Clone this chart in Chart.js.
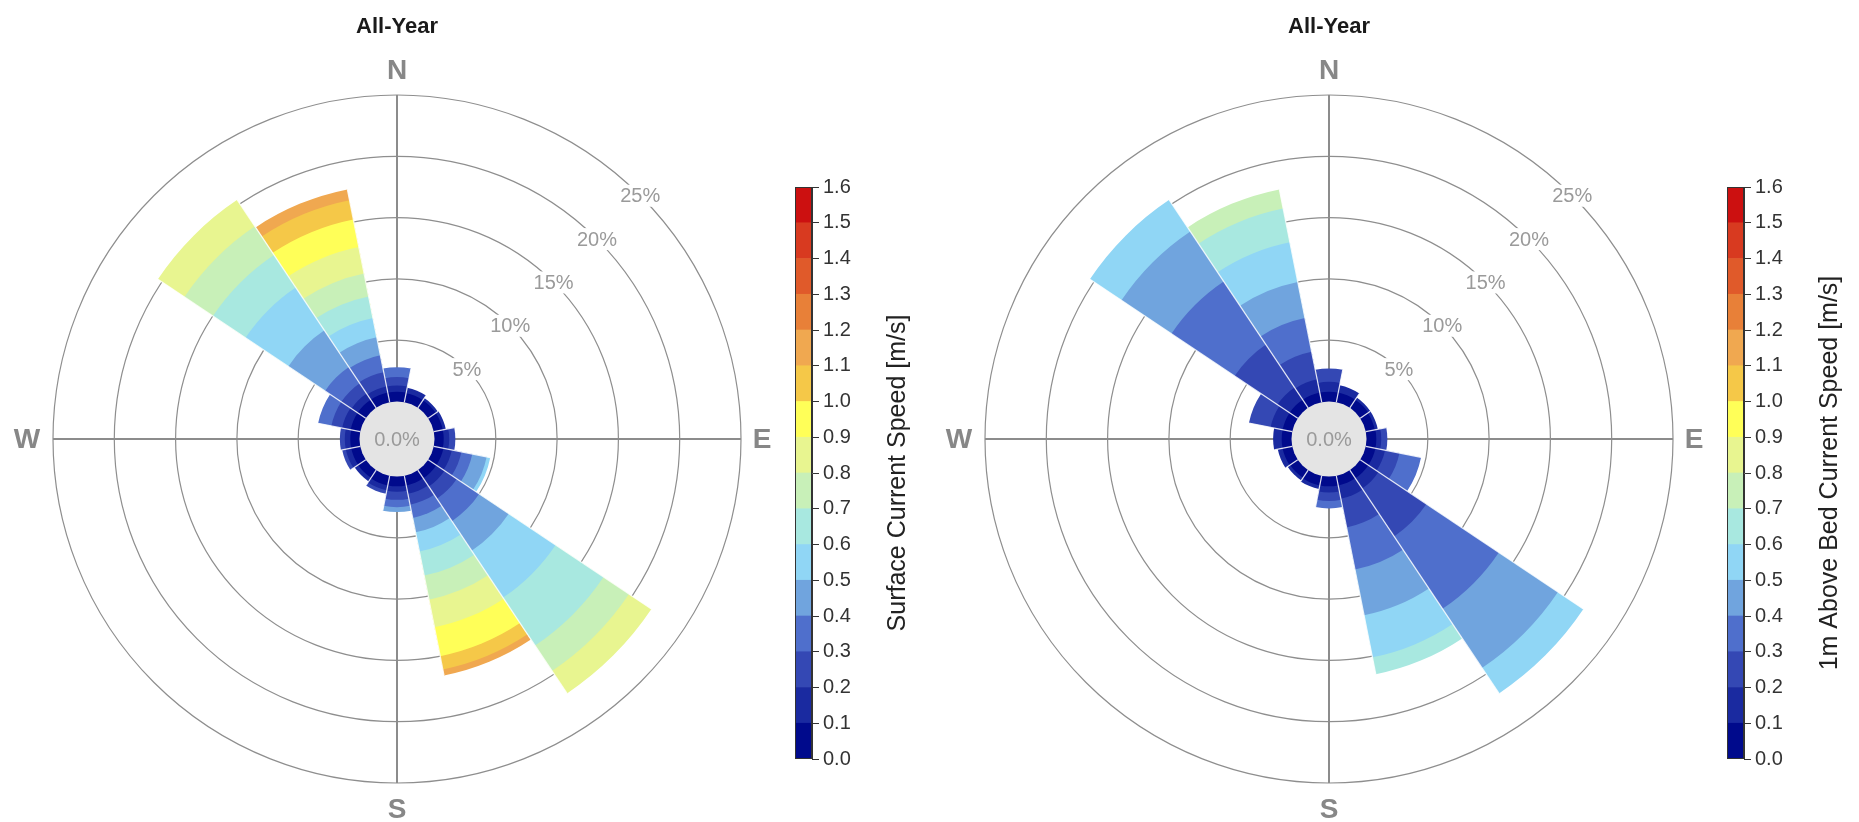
<!DOCTYPE html>
<html>
<head>
<meta charset="utf-8">
<title>All-Year current roses</title>
<script src="https://cdn.jsdelivr.net/npm/chart.js@4.4.1/dist/chart.umd.min.js"></script>
<style>
  html, body { margin: 0; padding: 0; background: #fff; overflow: hidden; }
  body { width: 1859px; height: 822px; position: relative; }
  canvas { position: absolute; }
  #roseSurface { left: 0; top: 0; }
  #barSurface { left: 760px; top: 150px; }
  #roseBed { left: 932px; top: 0; }
  #barBed { left: 1692px; top: 150px; }
</style>
</head>
<body>
<canvas id="roseSurface" width="794" height="822"></canvas>
<canvas id="barSurface" width="200" height="650"></canvas>
<canvas id="roseBed" width="794" height="822"></canvas>
<canvas id="barBed" width="200" height="650"></canvas>
<script>
const FONT = '"Liberation Sans", Arial, sans-serif';
Chart.defaults.font.family = FONT;

// 16 sectors, clockwise from north
const directions = ['N', 'NNE', 'NE', 'ENE', 'E', 'ESE', 'SE', 'SSE', 'S', 'SSW', 'SW', 'WSW', 'W', 'WNW', 'NW', 'NNW'];
const compassLabels = ['N', 'E', 'S', 'W'];
const ringTicks = [0, 5, 10, 15, 20, 25];
const calmLabel = '0.0%';

// speed bins (m/s) and their colours
const speedEdges = [0.0, 0.1, 0.2, 0.3, 0.4, 0.5, 0.6, 0.7, 0.8, 0.9, 1.0, 1.1, 1.2, 1.3, 1.4, 1.5, 1.6];
const binColors = ['#000a8c', '#1a2aa0', '#3448b4', '#4f6fcc', '#70a4de', '#90d6f5', '#a8e8e0', '#c8f0b8',
                   '#e8f590', '#ffff58', '#f5c848', '#f0a850', '#e88038', '#e05a2a', '#d83a20', '#cc1010'];

// surface current: % of time in each speed bin, per direction
const surfN   = [0.8, 0.5, 0.7, 0.8];
const surfNNE = [0.75, 0.45];
const surfNE  = [0.75, 0.2];
const surfENE = [0.75, 0.25];
const surfE   = [0.75, 0.45, 0.5];
const surfESE = [0.8, 0.7, 0.8, 0.9, 1.2, 0.3];
const surfSE  = [0.8, 0.8, 1.2, 2.2, 2.9, 4.6, 4.7, 2.5, 2.2];
const surfSSE = [0.8, 0.7, 0.9, 1.1, 1.2, 1.6, 2.0, 2.0, 2.3, 2.4, 1.1, 0.5];
const surfS   = [0.8, 0.45, 0.65, 0.6, 0.4];
const surfSSW = [0.8, 0.4, 0.3];
const surfSW  = [0.75, 0.35];
const surfWSW = [0.75, 0.45, 0.3];
const surfW   = [0.75, 0.45, 0.4];
const surfWNW = [0.8, 0.7, 0.9, 1.1];
const surfNW  = [0.8, 0.6, 1.0, 1.6, 3.6, 4.2, 3.2, 2.8, 2.6];
const surfNNW = [0.8, 0.5, 1.2, 1.4, 1.5, 1.6, 1.8, 1.9, 2.2, 2.3, 1.6, 0.9];

// 1m above bed
const bedN   = [0.8, 0.8, 1.1];
const bedNNE = [0.8, 0.6];
const bedNE  = [0.8, 0.2];
const bedENE = [0.75, 0.25];
const bedE   = [0.8, 0.4, 0.5];
const bedESE = [0.8, 0.8, 1.2, 1.8];
const bedSE  = [0.8, 1.0, 4.7, 7.1, 5.8, 2.5];
const bedSSE = [0.8, 1.1, 2.4, 3.5, 3.8, 3.5, 1.4];
const bedS   = [0.8, 0.5, 0.7, 0.6];
const bedSSW = [0.8, 0.3];
const bedSW  = [0.75, 0.25];
const bedWSW = [0.8, 0.4];
const bedW   = [0.8, 0.7];
const bedWNW = [0.8, 1.0, 1.8];
const bedNW  = [0.8, 1.2, 4.2, 6.2, 4.9, 3.1];
const bedNNW = [0.8, 1.1, 2.3, 2.8, 3.0, 3.3, 2.8, 1.6];

const surfaceRows = [surfN, surfNNE, surfNE, surfENE, surfE, surfESE, surfSE, surfSSE,
                     surfS, surfSSW, surfSW, surfWSW, surfW, surfWNW, surfNW, surfNNW];
const bedRows = [bedN, bedNNE, bedNE, bedENE, bedE, bedESE, bedSE, bedSSE,
                 bedS, bedSSW, bedSW, bedWSW, bedW, bedWNW, bedNW, bedNNW];

const colorTicks = speedEdges;

// one polar dataset per speed bin, holding the running total;
// lower bins come first so they are painted on top
function stackedDatasets(rows) {
  const nBins = Math.max(...rows.map(r => r.length));
  const sets = [];
  for (let k = 0; k < nBins; k++) {
    sets.push({
      label: speedEdges[k].toFixed(1) + '-' + speedEdges[k + 1].toFixed(1),
      data: rows.map(r => r.length > k ? r.slice(0, k + 1).reduce((a, b) => a + b, 0) : null),
      backgroundColor: binColors[k],
      borderWidth: 0
    });
  }
  return sets;
}

const roseDecor = {
  id: 'roseDecor',
  beforeDatasetsDraw(chart) {
    const ctx = chart.ctx;
    const s = chart.scales.r;
    const R = s.drawingArea, cx = s.xCenter, cy = s.yCenter;
    ctx.save();
    ctx.strokeStyle = '#8c8c8c';
    ctx.lineWidth = 2;
    ctx.beginPath();
    ctx.moveTo(cx, cy - R); ctx.lineTo(cx, cy + R);
    ctx.moveTo(cx - R, cy); ctx.lineTo(cx + R, cy);
    ctx.stroke();
    ctx.restore();
  },
  afterDatasetsDraw(chart) {
    const ctx = chart.ctx;
    const s = chart.scales.r;
    const R = s.drawingArea, cx = s.xCenter, cy = s.yCenter;
    const n = chart.data.labels.length;
    const totals = chart.data.labels.map((_, i) =>
      Math.max(...chart.data.datasets.map(ds => ds.data[i] ?? 0)));
    const r0 = s.getDistanceFromCenterForValue(0);

    ctx.save();
    // thin light gaps between sectors
    ctx.strokeStyle = 'rgba(255,255,255,0.85)';
    ctx.lineWidth = 1.2;
    for (let i = 0; i < n; i++) {
      const a = s.getIndexAngle(i) - Math.PI / 2;
      const len = s.getDistanceFromCenterForValue(Math.max(totals[i], totals[(i + n - 1) % n]));
      ctx.beginPath();
      ctx.moveTo(cx + r0 * Math.cos(a), cy + r0 * Math.sin(a));
      ctx.lineTo(cx + len * Math.cos(a), cy + len * Math.sin(a));
      ctx.stroke();
    }

    // calm circle
    ctx.fillStyle = '#e4e4e4';
    ctx.beginPath();
    ctx.arc(cx, cy, r0, 0, Math.PI * 2);
    ctx.fill();
    ctx.textAlign = 'center';
    ctx.textBaseline = 'middle';
    ctx.font = '20px ' + FONT;
    ctx.fillStyle = '#9a9a9a';
    ctx.fillText(calmLabel, cx, cy + 1);

    // ring labels along the NE diagonal
    ringTicks.forEach(v => {
      if (v === 0) return;
      const d = s.getDistanceFromCenterForValue(v);
      const x = cx + d * Math.SQRT1_2, y = cy - d * Math.SQRT1_2;
      const text = v + '%';
      const w = ctx.measureText(text).width;
      ctx.fillStyle = '#ffffff';
      ctx.fillRect(x - w / 2 - 2, y - 11, w + 4, 22);
      ctx.fillStyle = '#9a9a9a';
      ctx.fillText(text, x, y + 1);
    });

    // compass letters
    ctx.font = 'bold 28px ' + FONT;
    ctx.fillStyle = '#878787';
    const gap = [25, 21, 26, 26];
    compassLabels.forEach((t, i) => {
      const a = i * Math.PI / 2;
      const d = R + gap[i];
      ctx.fillText(t, cx + d * Math.sin(a), cy - d * Math.cos(a) + 1);
    });
    ctx.restore();
  }
};

function makeRose(id, rows) {
  return new Chart(document.getElementById(id), {
    type: 'polarArea',
    data: { labels: directions, datasets: stackedDatasets(rows) },
    options: {
      responsive: false,
      animation: false,
      events: [],
      layout: { padding: { left: 53, right: 53, top: 0, bottom: 39 } },
      plugins: {
        legend: { display: false },
        tooltip: { enabled: false },
        title: {
          display: true,
          text: 'All-Year',
          color: '#1a1a1a',
          font: { size: 22, weight: 'bold' },
          padding: { top: 14, bottom: 54.6 }
        }
      },
      scales: {
        r: {
          min: -3.06,
          max: 25,
          bounds: 'data',
          startAngle: -11.25,
          afterBuildTicks: scale => { scale.ticks = ringTicks.map(v => ({ value: v })); },
          ticks: { display: false },
          grid: { color: '#8e8e8e', lineWidth: 1.2 },
          angleLines: { display: false },
          pointLabels: { display: false }
        }
      }
    },
    plugins: [roseDecor]
  });
}

const barDecor = {
  id: 'barDecor',
  afterDraw(chart, args, opts) {
    const a = chart.chartArea;
    const ctx = chart.ctx;
    ctx.save();
    ctx.strokeStyle = '#333';
    ctx.lineWidth = 1;
    ctx.strokeRect(a.left + 0.5, a.top + 0.5, a.right - a.left - 1, a.bottom - a.top - 1);
    ctx.translate(a.right + opts.offset, (a.top + a.bottom) / 2);
    ctx.rotate(-Math.PI / 2);
    ctx.font = '25px ' + FONT;
    ctx.fillStyle = '#222';
    ctx.textAlign = 'center';
    ctx.textBaseline = 'middle';
    ctx.fillText(opts.text, 0, 0);
    ctx.restore();
  }
};

function makeColorbar(id, title) {
  return new Chart(document.getElementById(id), {
    type: 'bar',
    data: {
      labels: [''],
      datasets: binColors.map((c, k) => ({
        data: [speedEdges[k + 1] - speedEdges[k]],
        backgroundColor: c,
        borderWidth: 0,
        barPercentage: 1,
        categoryPercentage: 1
      }))
    },
    options: {
      responsive: false,
      animation: false,
      events: [],
      layout: { padding: { left: 35, right: 88, top: 37, bottom: 41 } },
      plugins: {
        legend: { display: false },
        tooltip: { enabled: false },
        barDecor: { text: title, offset: 86 }
      },
      scales: {
        x: { stacked: true, display: false },
        y: {
          stacked: true,
          position: 'right',
          min: 0,
          max: 1.6,
          afterBuildTicks: scale => { scale.ticks = colorTicks.map(v => ({ value: v })); },
          afterFit: scale => { scale.width = 60; },
          ticks: {
            autoSkip: false,
            padding: 4,
            color: '#333',
            font: { size: 20 },
            callback: v => Number(v).toFixed(1)
          },
          grid: { drawOnChartArea: false, tickLength: 7, tickColor: '#333' },
          border: { display: true, color: '#333' }
        }
      }
    },
    plugins: [barDecor]
  });
}

makeRose('roseSurface', surfaceRows);
makeColorbar('barSurface', 'Surface Current Speed [m/s]');
makeRose('roseBed', bedRows);
makeColorbar('barBed', '1m Above Bed Current Speed [m/s]');
</script>
</body>
</html>
